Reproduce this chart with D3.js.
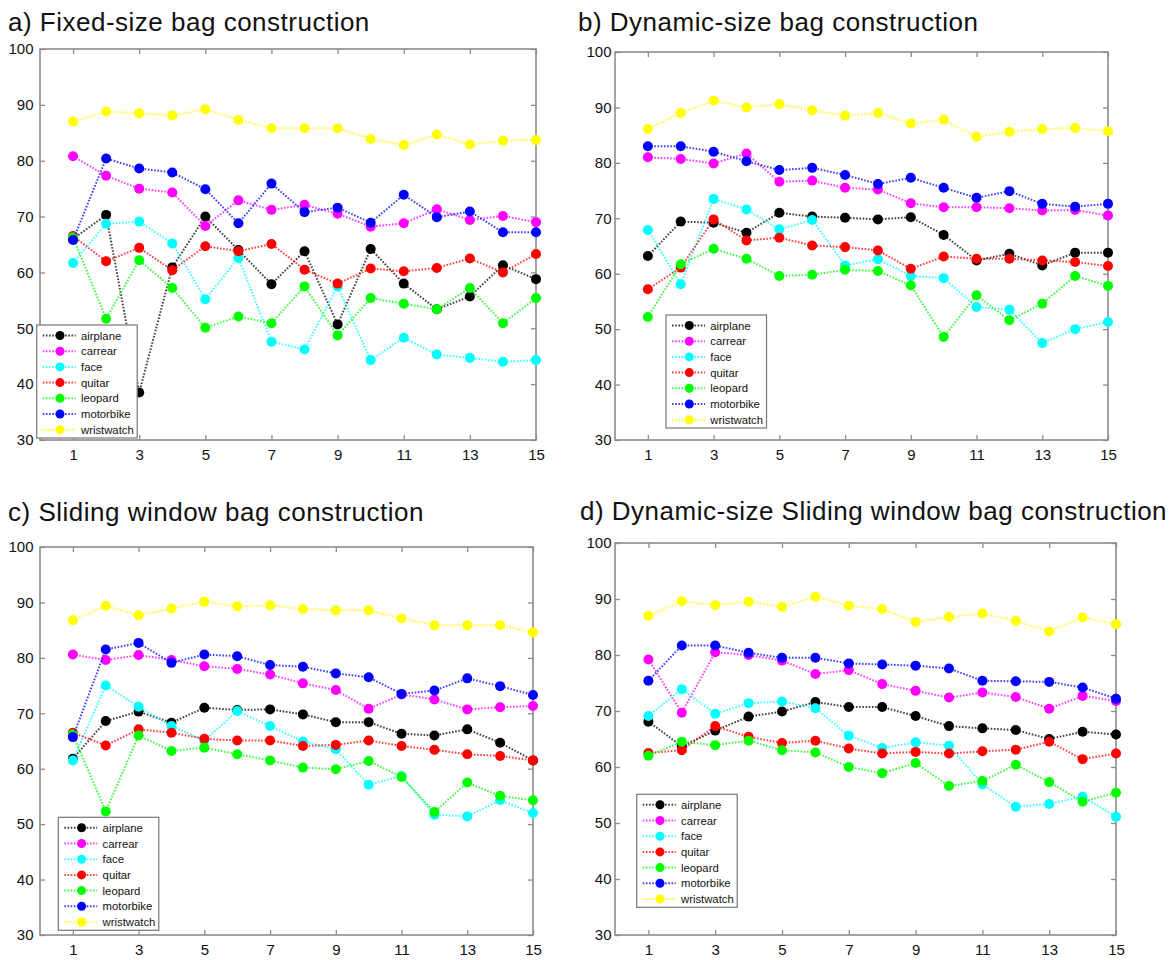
<!DOCTYPE html>
<html>
<head>
<meta charset="utf-8">
<script src="https://cdn.jsdelivr.net/npm/d3@7"></script>
<style>
  html, body { margin: 0; padding: 0; background: #fff; }
  svg { display: block; font-family: "Liberation Sans", Arial, Helvetica, sans-serif; }
</style>
</head>
<body>
<svg id="chart" width="1170" height="960"></svg>
<script>
// Number of instances per bag (x) against classification accuracy (%) for seven categories
const xValues = [1, 2, 3, 4, 5, 6, 7, 8, 9, 10, 11, 12, 13, 14, 15];
const xTicks = [1, 3, 5, 7, 9, 11, 13, 15];
const yTicks = [30, 40, 50, 60, 70, 80, 90, 100];
const categories = ["airplane", "carrear", "face", "quitar", "leopard", "motorbike", "wristwatch"];
const seriesColors = ["#000000", "#ff00ff", "#00ffff", "#ff0000", "#00ff00", "#0000ff", "#ffff00"];
const panelTitles = [
  "a) Fixed-size bag construction",
  "b) Dynamic-size bag construction",
  "c) Sliding window bag construction",
  "d) Dynamic-size Sliding window bag construction"
];

// a) fixed-size bags, one row per category
const fixedSize = [
  [66.0, 70.3, 38.5, 60.9, 70.0, 64.0, 57.9, 63.8, 50.7, 64.2, 58.0, 53.4, 55.7, 61.3, 58.8],
  [80.8, 77.3, 75.0, 74.3, 68.3, 72.9, 71.2, 72.1, 70.5, 68.2, 68.8, 71.3, 69.4, 70.1, 69.0],
  [61.7, 68.7, 69.1, 65.2, 55.2, 62.6, 47.6, 46.2, 57.5, 44.3, 48.3, 45.3, 44.7, 44.0, 44.3],
  [66.5, 62.0, 64.4, 60.4, 64.7, 63.8, 65.1, 60.5, 58.0, 60.7, 60.2, 60.8, 62.5, 60.0, 63.3],
  [66.3, 51.7, 62.2, 57.2, 50.1, 52.1, 50.9, 57.5, 48.7, 55.4, 54.4, 53.4, 57.2, 50.9, 55.4],
  [65.8, 80.4, 78.6, 77.9, 74.9, 68.8, 75.9, 70.8, 71.6, 68.9, 73.9, 69.9, 70.9, 67.2, 67.2],
  [87.0, 88.8, 88.5, 88.1, 89.2, 87.3, 85.8, 85.8, 85.8, 83.9, 82.8, 84.7, 82.9, 83.6, 83.7]
];

// b) dynamic-size bags
const dynamicSize = [
  [63.2, 69.4, 69.2, 67.4, 71.0, 70.3, 70.1, 69.8, 70.2, 67.0, 62.4, 63.6, 61.5, 63.8, 63.8],
  [81.0, 80.7, 79.9, 81.7, 76.6, 76.8, 75.5, 75.2, 72.7, 72.0, 72.0, 71.8, 71.4, 71.5, 70.5],
  [67.9, 58.1, 73.5, 71.6, 68.0, 69.7, 61.5, 62.6, 59.6, 59.2, 54.0, 53.5, 47.5, 50.0, 51.3],
  [57.2, 61.1, 69.8, 66.0, 66.5, 65.1, 64.8, 64.2, 60.9, 63.1, 62.7, 62.7, 62.4, 62.1, 61.4],
  [52.2, 61.7, 64.5, 62.7, 59.6, 59.8, 60.7, 60.5, 57.9, 48.6, 56.1, 51.6, 54.6, 59.6, 57.8],
  [83.0, 83.0, 82.0, 80.3, 78.7, 79.1, 77.8, 76.2, 77.3, 75.5, 73.7, 74.9, 72.6, 72.1, 72.6],
  [86.1, 89.0, 91.2, 90.0, 90.6, 89.5, 88.5, 89.0, 87.1, 87.8, 84.7, 85.6, 86.1, 86.3, 85.7]
];

// c) sliding window bags
const slidingWindow = [
  [61.8, 68.6, 70.3, 68.3, 71.0, 70.6, 70.7, 69.8, 68.4, 68.4, 66.3, 66.0, 67.1, 64.7, 61.5],
  [80.6, 79.6, 80.5, 79.6, 78.5, 78.0, 77.0, 75.4, 74.2, 70.8, 73.4, 72.5, 70.7, 71.1, 71.3],
  [61.5, 75.0, 71.2, 67.7, 65.1, 70.4, 67.7, 64.9, 63.5, 57.1, 58.7, 51.7, 51.4, 54.3, 52.0],
  [66.5, 64.2, 67.1, 66.5, 65.4, 65.1, 65.1, 64.1, 64.3, 65.1, 64.1, 63.4, 62.6, 62.3, 61.5],
  [66.2, 52.3, 66.0, 63.2, 63.8, 62.6, 61.5, 60.2, 59.9, 61.4, 58.5, 52.2, 57.5, 55.1, 54.3],
  [65.7, 81.5, 82.7, 79.1, 80.6, 80.3, 78.7, 78.4, 77.2, 76.5, 73.5, 74.1, 76.3, 74.9, 73.3],
  [86.8, 89.4, 87.7, 88.9, 90.1, 89.3, 89.5, 88.8, 88.6, 88.6, 87.1, 85.9, 85.9, 85.9, 84.6]
];

// d) dynamic-size sliding window bags
const dynamicSliding = [
  [68.1, 63.7, 66.5, 69.0, 69.9, 71.6, 70.7, 70.7, 69.1, 67.3, 66.9, 66.6, 65.0, 66.3, 65.8],
  [79.2, 69.7, 80.5, 80.0, 79.0, 76.6, 77.3, 74.8, 73.6, 72.4, 73.3, 72.5, 70.4, 72.7, 71.8],
  [69.1, 73.9, 69.5, 71.4, 71.7, 70.5, 65.6, 63.4, 64.4, 63.8, 56.9, 52.9, 53.4, 54.7, 51.1],
  [62.5, 63.0, 67.3, 65.4, 64.3, 64.7, 63.3, 62.4, 62.7, 62.4, 62.8, 63.1, 64.5, 61.4, 62.4],
  [62.0, 64.5, 63.9, 64.7, 63.0, 62.6, 60.0, 58.9, 60.7, 56.6, 57.5, 60.4, 57.3, 53.8, 55.4],
  [75.4, 81.7, 81.7, 80.4, 79.5, 79.5, 78.5, 78.3, 78.1, 77.6, 75.4, 75.3, 75.2, 74.2, 72.2],
  [87.0, 89.6, 88.9, 89.5, 88.6, 90.4, 88.8, 88.2, 85.9, 86.8, 87.4, 86.1, 84.2, 86.7, 85.5]
];

const panelData = [fixedSize, dynamicSize, slidingWindow, dynamicSliding];

// Layout of the four panels: plot frame, title anchor, legend box
const layout = [
  { left: 40,  right: 536,  top: 49,  bottom: 440, titleX: 8,   titleY: 31,  yGap: 6.5, legX: 36.7,  legY: 325 },
  { left: 615, right: 1108, top: 52,  bottom: 440, titleX: 578, titleY: 31,  yGap: 3.5, legX: 666,   legY: 315 },
  { left: 40,  right: 533,  top: 547, bottom: 935, titleX: 8,   titleY: 521, yGap: 6.5, legX: 58.3,  legY: 817.3 },
  { left: 615, right: 1116, top: 543, bottom: 935, titleX: 580, titleY: 520, yGap: 3.5, legX: 636.7, legY: 794.3 }
];

const svg = d3.select("#chart");
const frameColor = "#8c8c8c";

panelData.forEach((data, p) => {
  const L = layout[p];
  const x = d3.scaleLinear().domain([0, 15]).range([L.left, L.right]);
  const y = d3.scaleLinear().domain([30, 100]).range([L.bottom, L.top]);
  const g = svg.append("g");

  // title
  g.append("text")
    .attr("x", L.titleX).attr("y", L.titleY)
    .attr("font-size", 26).attr("letter-spacing", 0.5).attr("fill", "#111")
    .text(panelTitles[p]);

  // axes with inward ticks on all four sides
  const tickLen = 5;
  const bottomAxis = d3.axisBottom(x).tickValues(xTicks).tickSize(-tickLen).tickPadding(9).tickFormat(d3.format("d"));
  const topAxis = d3.axisTop(x).tickValues(xTicks).tickSize(-tickLen).tickFormat("");
  const leftAxis = d3.axisLeft(y).tickValues(yTicks).tickSize(-tickLen).tickPadding(L.yGap).tickFormat(d3.format("d"));
  const rightAxis = d3.axisRight(y).tickValues(yTicks).tickSize(-tickLen).tickFormat("");

  const styleAxis = sel => {
    sel.select(".domain").remove();
    sel.selectAll(".tick line").attr("stroke", frameColor).attr("stroke-width", 1.3);
    sel.selectAll(".tick text").attr("font-size", 15).attr("fill", "#111")
      .attr("font-family", "'Liberation Sans', Arial, sans-serif");
  };

  g.append("g").attr("transform", `translate(0,${L.bottom})`).call(bottomAxis).call(styleAxis);
  g.append("g").attr("transform", `translate(0,${L.top})`).call(topAxis).call(styleAxis);
  g.append("g").attr("transform", `translate(${L.left},0)`).call(leftAxis).call(styleAxis);
  g.append("g").attr("transform", `translate(${L.right},0)`).call(rightAxis).call(styleAxis);

  // plot frame
  g.append("rect")
    .attr("x", L.left).attr("y", L.top)
    .attr("width", L.right - L.left).attr("height", L.bottom - L.top)
    .attr("fill", "none").attr("stroke", frameColor).attr("stroke-width", 1.6);

  const line = d3.line().x((d, i) => x(xValues[i])).y(d => y(d));

  // dotted lines with filled circle markers, drawn in category order
  data.forEach((vals, s) => {
    const sg = g.append("g");
    sg.append("path")
      .attr("d", line(vals))
      .attr("fill", "none")
      .attr("stroke", seriesColors[s])
      .attr("stroke-width", 2)
      .attr("stroke-dasharray", "1.6,1.6")
      .attr("stroke-opacity", 0.75);
    sg.selectAll("circle")
      .data(vals)
      .join("circle")
      .attr("cx", (d, i) => x(xValues[i]))
      .attr("cy", d => y(d))
      .attr("r", 5)
      .attr("fill", seriesColors[s]);
  });

  // legend
  const rowH = 15.7;
  const lg = g.append("g").attr("transform", `translate(${L.legX},${L.legY})`);
  lg.append("rect")
    .attr("width", 100.5).attr("height", 113)
    .attr("fill", "#fff").attr("stroke", "#777").attr("stroke-width", 1.2);
  categories.forEach((name, s) => {
    const ry = 10.5 + s * rowH;
    lg.append("line")
      .attr("x1", 6).attr("x2", 39).attr("y1", ry).attr("y2", ry)
      .attr("stroke", seriesColors[s]).attr("stroke-width", 2)
      .attr("stroke-dasharray", "1.6,1.6").attr("stroke-opacity", 0.75);
    lg.append("circle")
      .attr("cx", 23.3).attr("cy", ry).attr("r", 4.5)
      .attr("fill", seriesColors[s]);
    lg.append("text")
      .attr("x", 44.3).attr("y", ry).attr("dy", "0.36em")
      .attr("font-size", 11.3).attr("fill", "#111")
      .text(name);
  });
});
</script>
</body>
</html>
